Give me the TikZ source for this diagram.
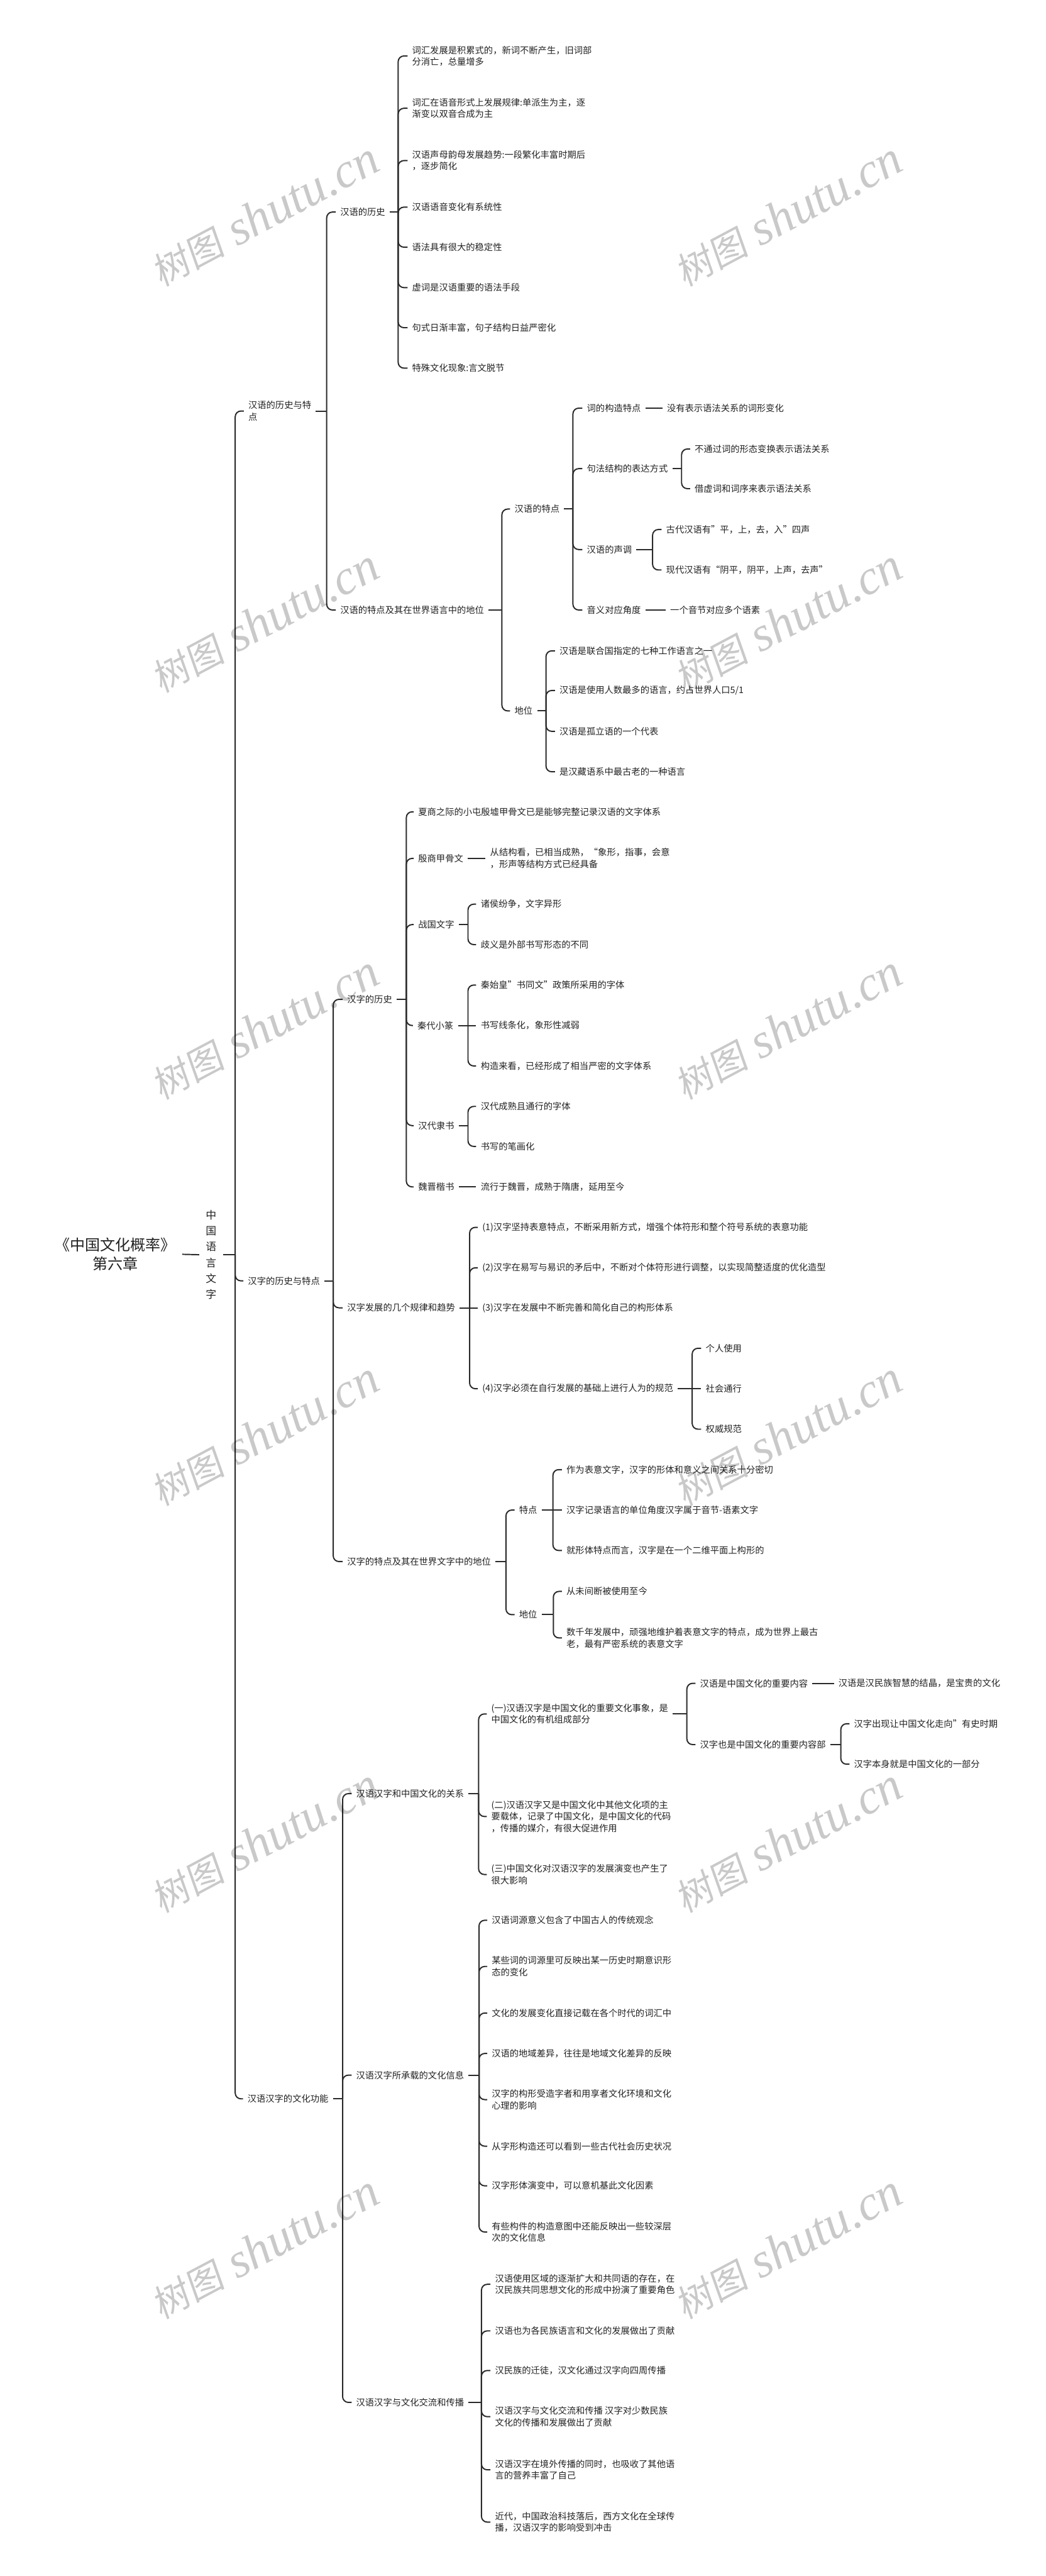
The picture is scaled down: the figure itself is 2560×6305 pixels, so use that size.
\documentclass[tikz,border=0pt]{standalone}
\usepackage{fontspec}
\setmainfont{Noto Sans CJK SC}
\newfontfamily\wmcjk{Noto Sans CJK SC}[FakeSlant=0.15]
\newfontfamily\wmlat{Liberation Serif}
\definecolor{ln}{HTML}{2A2A2A}
\definecolor{tx}{HTML}{222222}
\tikzset{
  conn/.style={draw=ln, line width=3pt, rounded corners=14pt},
  flat/.style={draw=ln, line width=3pt},
  txt/.style={anchor=west, inner xsep=11pt, inner ysep=2pt, align=left, text=tx, font=\fontsize{22}{28.5}\selectfont},
  wm/.style={rotate=28, text=black, text opacity=0.21, inner sep=0pt},
}
% parent, spine x, curved children
\newcommand\branch[3]{%
  \coordinate (#1-sx) at (#2,0);
  \draw[flat] (#1.east) -- (#1.east -| #1-sx);
  \foreach \c in {#3} {\draw[conn] (#1.east -| #1-sx) |- (\c.west);}
}
\newcommand\tick[2]{\draw[flat] (#1.east -| #1-sx) -- (#2.west);}
\newcommand\single[2]{\draw[flat] (#1.east) -- (#2.west);}
\newcommand\wmtext{{\wmcjk\fontsize{90}{90}\selectfont 树图}\hspace{30pt}{\wmlat\itshape\fontsize{120}{120}\selectfont shutu.cn}}
\begin{document}
\begin{tikzpicture}[x=1pt,y=-1pt]
\useasboundingbox (0,0) rectangle (2560,6305);
\fill[white] (0,0) rectangle (2560,6305);

% root
\node[align=center, text=tx, inner xsep=16pt, font=\fontsize{37}{46}\selectfont] (root) at (282,3070) {《中国文化概率》\\第六章};
\node[align=center, text=tx, inner xsep=16pt, font=\fontsize{26}{38.5}\selectfont] (vt) at (517,3071) {中\\国\\语\\言\\文\\字};
\single{root}{vt}

% level 1
\node[txt] (A) at (597,1006) {汉语的历史与特\\点};
\node[txt] (B) at (596,3135) {汉字的历史与特点};
\node[txt] (C) at (595,5137) {汉语汉字的文化功能};
\branch{vt}{576}{A,B,C}

% ===== A =====
\node[txt] (A1) at (822,519) {汉语的历史};
\node[txt] (A2) at (822,1493) {汉语的特点及其在世界语言中的地位};
\branch{A}{800}{A1,A2}

\node[txt] (A1a) at (998,137) {词汇发展是积累式的，新词不断产生，旧词部\\分消亡，总量增多};
\node[txt] (A1b) at (998,265) {词汇在语音形式上发展规律:单派生为主，逐\\渐变以双音合成为主};
\node[txt] (A1c) at (998,393) {汉语声母韵母发展趋势:一段繁化丰富时期后\\，逐步简化};
\node[txt] (A1d) at (998,507) {汉语语音变化有系统性};
\node[txt] (A1e) at (998,605) {语法具有很大的稳定性};
\node[txt] (A1f) at (998,704) {虚词是汉语重要的语法手段};
\node[txt] (A1g) at (998,802) {句式日渐丰富，句子结构日益严密化};
\node[txt] (A1h) at (998,901) {特殊文化现象:言文脱节};
\branch{A1}{975}{A1a,A1b,A1c,A1d,A1e,A1f,A1g,A1h}

\node[txt] (A2a) at (1249,1246) {汉语的特点};
\node[txt] (A2b) at (1249,1740) {地位};
\branch{A2}{1229}{A2a,A2b}

\node[txt] (A2a1) at (1426,999) {词的构造特点};
\node[txt] (A2a2) at (1426,1147) {句法结构的表达方式};
\node[txt] (A2a3) at (1426,1345) {汉语的声调};
\node[txt] (A2a4) at (1426,1493) {音义对应角度};
\branch{A2a}{1403}{A2a1,A2a2,A2a3,A2a4}

\node[txt] (A2a1x) at (1622,999) {没有表示语法关系的词形变化};
\single{A2a1}{A2a1x}
\node[txt] (A2a2a) at (1690,1099) {不通过词的形态变换表示语法关系};
\node[txt] (A2a2b) at (1690,1196) {借虚词和词序来表示语法关系};
\branch{A2a2}{1669}{A2a2a,A2a2b}
\node[txt] (A2a3a) at (1620,1296) {古代汉语有"平，上，去，入"四声};
\node[txt] (A2a3b) at (1620,1395) {现代汉语有“阴平，阴平，上声，去声”};
\branch{A2a3}{1598}{A2a3a,A2a3b}
\node[txt] (A2a4x) at (1630,1493) {一个音节对应多个语素};
\single{A2a4}{A2a4x}

\node[txt] (A2b1) at (1359,1593) {汉语是联合国指定的七种工作语言之一};
\node[txt] (A2b2) at (1359,1690) {汉语是使用人数最多的语言，约占世界人口5/1};
\node[txt] (A2b3) at (1359,1790) {汉语是孤立语的一个代表};
\node[txt] (A2b4) at (1359,1889) {是汉藏语系中最古老的一种语言};
\branch{A2b}{1337}{A2b1,A2b2,A2b3,A2b4}

% ===== B =====
\node[txt] (B1) at (839,2446) {汉字的历史};
\node[txt] (B2) at (839,3201) {汉字发展的几个规律和趋势};
\node[txt] (B3) at (839,3822) {汉字的特点及其在世界文字中的地位};
\branch{B}{816}{B1,B2,B3}

\node[txt] (B1a) at (1013,1987) {夏商之际的小屯殷墟甲骨文已是能够完整记录汉语的文字体系};
\node[txt] (B1b) at (1013,2101) {殷商甲骨文};
\node[txt] (B1c) at (1013,2263) {战国文字};
\node[txt] (B1d) at (1011,2510) {秦代小篆};
\node[txt] (B1e) at (1013,2755) {汉代隶书};
\node[txt] (B1f) at (1013,2905) {魏晋楷书};
\branch{B1}{995}{B1a,B1b,B1c,B1d,B1e,B1f}

\node[txt] (B1bx) at (1189,2101) {从结构看，已相当成熟，“象形，指事，会意\\，形声等结构方式已经具备};
\single{B1b}{B1bx}
\node[txt] (B1c1) at (1166,2213) {诸侯纷争，文字异形};
\node[txt] (B1c2) at (1166,2312) {歧义是外部书写形态的不同};
\branch{B1c}{1146}{B1c1,B1c2}
\node[txt] (B1d1) at (1166,2411) {秦始皇"书同文”政策所采用的字体};
\node[txt] (B1d2) at (1166,2510) {书写线条化，象形性减弱};
\node[txt] (B1d3) at (1166,2609) {构造来看，已经形成了相当严密的文字体系};
\branch{B1d}{1146}{B1d1,B1d3}
\tick{B1d}{B1d2}
\node[txt] (B1e1) at (1166,2708) {汉代成熟且通行的字体};
\node[txt] (B1e2) at (1166,2806) {书写的笔画化};
\branch{B1e}{1146}{B1e1,B1e2}
\node[txt] (B1fx) at (1166,2905) {流行于魏晋，成熟于隋唐，延用至今};
\single{B1f}{B1fx}

\node[txt] (B2a) at (1170,3004) {(1)汉字坚持表意特点，不断采用新方式，增强个体符形和整个符号系统的表意功能};
\node[txt] (B2b) at (1170,3103) {(2)汉字在易写与易识的矛后中，不断对个体符形进行调整，以实现简整适度的优化造型};
\node[txt] (B2c) at (1170,3201) {(3)汉字在发展中不断完善和简化自己的构形体系};
\node[txt] (B2d) at (1170,3399) {(4)汉字必须在自行发展的基础上进行人为的规范};
\branch{B2}{1150}{B2a,B2b,B2d}
\tick{B2}{B2c}
\node[txt] (B2d1) at (1717,3300) {个人使用};
\node[txt] (B2d2) at (1717,3399) {社会通行};
\node[txt] (B2d3) at (1717,3498) {权威规范};
\branch{B2d}{1695}{B2d1,B2d3}
\tick{B2d}{B2d2}

\node[txt] (B3a) at (1260,3696) {特点};
\node[txt] (B3b) at (1260,3952) {地位};
\branch{B3}{1239}{B3a,B3b}
\node[txt] (B3a1) at (1376,3597) {作为表意文字，汉字的形体和意义之间关系十分密切};
\node[txt] (B3a2) at (1376,3696) {汉字记录语言的单位角度汉字属于音节-语素文字};
\node[txt] (B3a3) at (1376,3795) {就形体特点而言，汉字是在一个二维平面上构形的};
\branch{B3a}{1354}{B3a1,B3a3}
\tick{B3a}{B3a2}
\node[txt] (B3b1) at (1376,3895) {从未间断被使用至今};
\node[txt] (B3b2) at (1376,4009) {数千年发展中，顽强地维护着表意文字的特点，成为世界上最古\\老，最有严密系统的表意文字};
\branch{B3b}{1355}{B3b1,B3b2}

% ===== C =====
\node[txt] (C1) at (861,4390) {汉语汉字和中国文化的关系};
\node[txt] (C2) at (861,5079) {汉语汉字所承载的文化信息};
\node[txt] (C3) at (861,5880) {汉语汉字与文化交流和传播};
\branch{C}{839}{C1,C2,C3}

\node[txt] (C1a) at (1192,4195) {(一)汉语汉字是中国文化的重要文化事象，是\\中国文化的有机组成部分};
\node[txt] (C1b) at (1192,4446) {(二)汉语汉字又是中国文化中其他文化项的主\\要载体，记录了中国文化，是中国文化的代码\\，传播的媒介，有很大促进作用};
\node[txt] (C1c) at (1192,4588) {(三)中国文化对汉语汉字的发展演变也产生了\\很大影响};
\branch{C1}{1172}{C1a,C1b,C1c}

\node[txt] (C1a1) at (1703,4120) {汉语是中国文化的重要内容};
\node[txt] (C1a2) at (1703,4270) {汉字也是中国文化的重要内容部};
\branch{C1a}{1682}{C1a1,C1a2}
\node[txt] (C1a1x) at (2042,4120) {汉语是汉民族智慧的结晶，是宝贵的文化};
\single{C1a1}{C1a1x}
\node[txt] (C1a2a) at (2080,4219) {汉字出现让中国文化走向”有史时期};
\node[txt] (C1a2b) at (2080,4318) {汉字本身就是中国文化的一部分};
\branch{C1a2}{2059}{C1a2a,C1a2b}

\node[txt] (C2a) at (1193,4700) {汉语词源意义包含了中国古人的传统观念};
\node[txt] (C2b) at (1193,4813) {某些词的词源里可反映出某一历史时期意识形\\态的变化};
\node[txt] (C2c) at (1193,4927) {文化的发展变化直接记载在各个时代的词汇中};
\node[txt] (C2d) at (1193,5026) {汉语的地域差异，往往是地域文化差异的反映};
\node[txt] (C2e) at (1193,5139) {汉字的构形受造字者和用享者文化环境和文化\\心理的影响};
\node[txt] (C2f) at (1193,5253) {从字形构造还可以看到一些古代社会历史状况};
\node[txt] (C2g) at (1193,5350) {汉字形体演变中，可以意机基此文化因素};
\node[txt] (C2h) at (1193,5463) {有些构件的构造意图中还能反映出一些较深层\\次的文化信息};
\branch{C2}{1173}{C2a,C2b,C2c,C2d,C2e,C2f,C2g,C2h}

\node[txt] (C3a) at (1201,5591) {汉语使用区域的逐渐扩大和共同语的存在，在\\汉民族共同思想文化的形成中扮演了重要角色};
\node[txt] (C3b) at (1201,5705) {汉语也为各民族语言和文化的发展做出了贡献};
\node[txt] (C3c) at (1201,5802) {汉民族的迁徒，汉文化通过汉字向四周传播};
\node[txt] (C3d) at (1201,5915) {汉语汉字与文化交流和传播 汉字对少数民族\\文化的传播和发展做出了贡献};
\node[txt] (C3e) at (1201,6045) {汉语汉字在境外传播的同时，也吸收了其他语\\言的营养丰富了自己};
\node[txt] (C3f) at (1201,6173) {近代，中国政治科技落后，西方文化在全球传\\播，汉语汉字的影响受到冲击};
\branch{C3}{1179}{C3a,C3b,C3c,C3d,C3e,C3f}

% watermarks
\foreach \k in {0,...,5} {
  \node[wm] (wmL\k) at (648,525+995*\k) {\wmtext};
  \node[wm] (wmR\k) at (1930,525+995*\k) {\wmtext};
}
\end{tikzpicture}
\end{document}
